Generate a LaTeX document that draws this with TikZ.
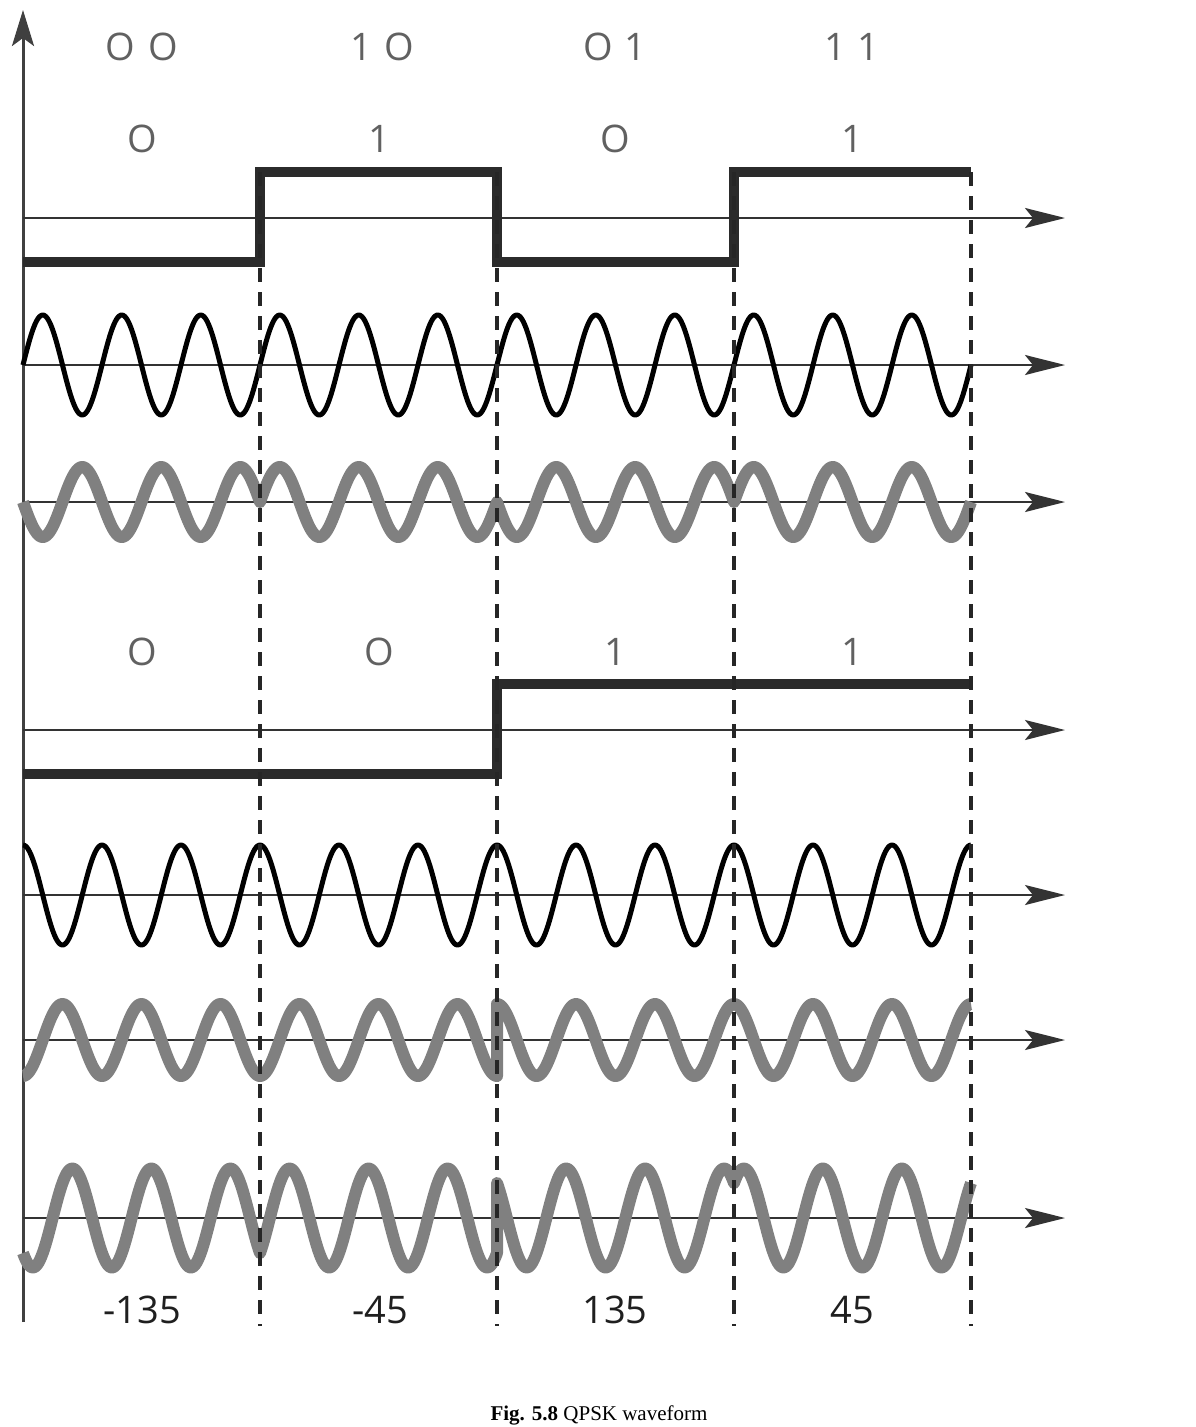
\documentclass[tikz,border=0pt]{standalone}
\usepackage{fontspec}
\setmainfont{Liberation Serif}
\newfontfamily\labfont{Open Sans}
\usetikzlibrary{arrows.meta}
\begin{document}
\begin{tikzpicture}[x=1pt,y=-1pt,
  axisline/.style={line width=2.4pt, draw=black!80, -{Stealth[length=40pt,width=20pt,inset=8pt]}},
  yaxis/.style={line width=3pt, draw=black!75, -{Stealth[length=36pt,width=22pt,inset=8pt]}},
  sqwave/.style={line width=9.5pt, draw=black!83, line join=miter},
  carrier/.style={line width=5pt, draw=black, line join=round},
  modwave/.style={line width=12pt, draw=black!50, line join=round},
  divider/.style={line width=3.5pt, draw=black!85, dash pattern=on 14pt off 10pt},
  toplab/.style={font=\labfont\fontsize{38}{40}\selectfont, text=black!62, inner sep=0pt},
  botlab/.style={font=\labfont\fontsize{38}{40}\selectfont, text=black!88, inner sep=0pt},
  declare function={ph(\t)=4.556962*(\t-23);},
]
\useasboundingbox (0,0) rectangle (1195,1427);

% vertical axis
\coordinate (origin) at (23,1322);
\coordinate (ytip) at (23,10);
\draw[yaxis] (origin) -- (ytip);

% horizontal axes
\foreach \r/\yy in {1/218,2/365,3/502,4/730,5/895,6/1040,7/1218}{
  \coordinate (s\r) at (23,\yy);
  \coordinate (e\r) at (1065,\yy);
  \draw[axisline] (s\r) -- (e\r);
}

% row 2: carrier sin
\draw[carrier] plot[domain=23:971, samples=700] (\x,{365-50*sin(ph(\x))});

% row 3: I * sin, I = -1,1,-1,1
\draw[modwave]
  plot[domain=23:260, samples=180] (\x,{502+35*sin(ph(\x))})
  -- plot[domain=260:497, samples=180] (\x,{502-35*sin(ph(\x))})
  -- plot[domain=497:734, samples=180] (\x,{502+35*sin(ph(\x))})
  -- plot[domain=734:971, samples=180] (\x,{502-35*sin(ph(\x))});

% row 5: carrier cos
\draw[carrier] plot[domain=23:971, samples=700] (\x,{895-50*cos(ph(\x))});

% row 6: Q * cos, Q = -1,-1,1,1
\draw[modwave]
  plot[domain=23:497, samples=360] (\x,{1040+36*cos(ph(\x))})
  -- plot[domain=497:971, samples=360] (\x,{1040-36*cos(ph(\x))});

% row 7: QPSK = I sin + Q cos
\draw[modwave]
  plot[domain=23:260, samples=180] (\x,{1218+35*(sin(ph(\x))+cos(ph(\x)))})
  -- plot[domain=260:497, samples=180] (\x,{1218-35*(sin(ph(\x))-cos(ph(\x)))})
  -- plot[domain=497:734, samples=180] (\x,{1218-35*(cos(ph(\x))-sin(ph(\x)))})
  -- plot[domain=734:971, samples=180] (\x,{1218-35*(sin(ph(\x))+cos(ph(\x)))});

% square waves
\draw[sqwave] (23,262) -- (260,262) -- (260,172) -- (497,172) -- (497,262)
  -- (734,262) -- (734,172) -- (971,172);
\draw[sqwave] (23,774) -- (497,774) -- (497,684) -- (971,684);

% dashed dividers
\foreach \i/\xx in {1/260,2/497,3/734,4/971}{
  \coordinate (dt\i) at (\xx,172);
  \coordinate (db\i) at (\xx,1326);
  \draw[divider] (dt\i) -- (db\i);
}

% labels
\node[toplab] (d1) at (142,47) {O\hspace{13pt}O};
\node[toplab] (d2) at (382,47) {1\hspace{12pt}O};
\node[toplab] (d3) at (615,47) {O\hspace{12pt}1};
\node[toplab] (d4) at (852,47) {1\hspace{12pt}1};

\node[toplab] (i1) at (142,139) {O};
\node[toplab] (i2) at (379,139) {1};
\node[toplab] (i3) at (615,139) {O};
\node[toplab] (i4) at (852,139) {1};

\node[toplab] (q1) at (142,652) {O};
\node[toplab] (q2) at (379,652) {O};
\node[toplab] (q3) at (615,652) {1};
\node[toplab] (q4) at (852,652) {1};

\node[botlab] (p1) at (142,1310) {-135};
\node[botlab] (p2) at (380,1310) {-45};
\node[botlab] (p3) at (615,1310) {135};
\node[botlab] (p4) at (852,1310) {45};

% caption
\node[font=\fontsize{21}{24}\selectfont, anchor=base, inner sep=0pt] (cap) at (599,1420) {\textbf{Fig. 5.8} QPSK waveform};
\end{tikzpicture}
\end{document}
